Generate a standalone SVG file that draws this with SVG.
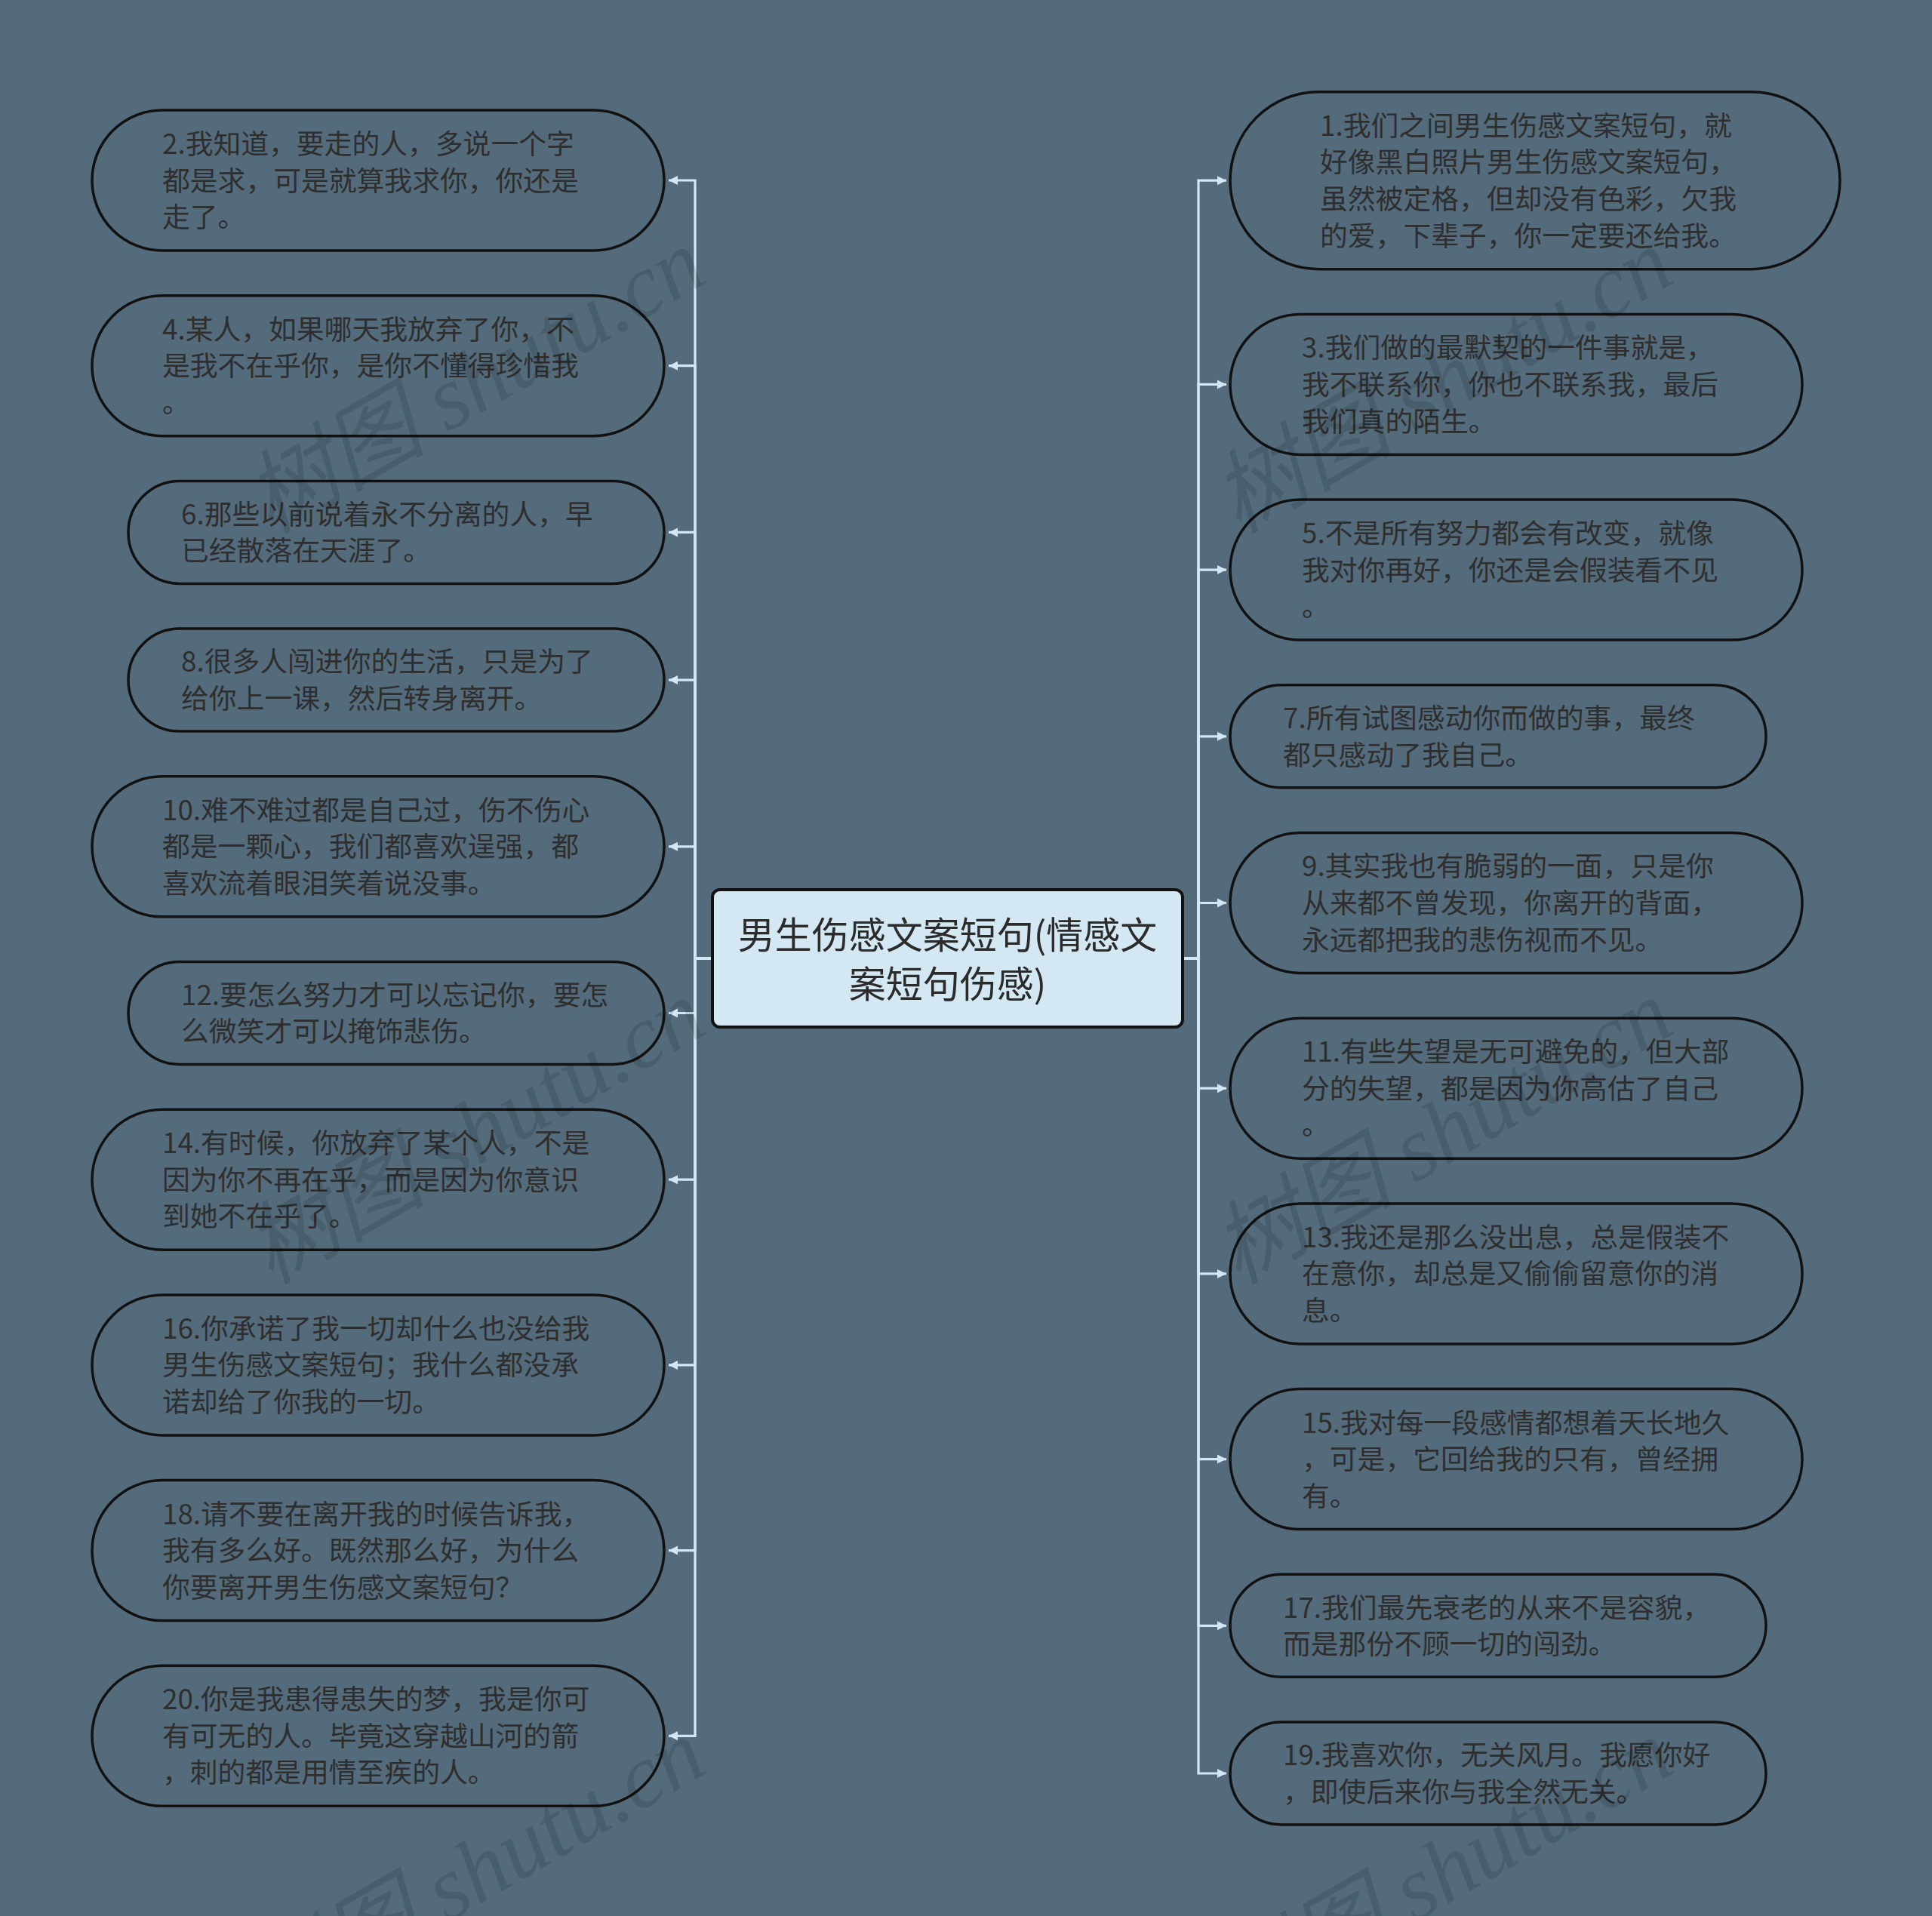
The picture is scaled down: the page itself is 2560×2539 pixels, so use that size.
<svg xmlns="http://www.w3.org/2000/svg" width="2560" height="2539" viewBox="0 0 2560 2539">
<defs>
<style>
.bg{fill:#546b7b}
.node{fill:#546b7b;stroke:#111;stroke-width:3.5}
.t{font-family:"Noto Sans CJK SC","Noto Sans",sans-serif;font-size:36.8px;fill:#2e2e2e}
.ct{font-family:"Noto Sans CJK SC","Noto Sans",sans-serif;font-size:49px;fill:#2b2b2b;text-anchor:middle}
.conn{fill:none;stroke:#d2e8f4;stroke-width:3.2}
.wm{font-family:"Liberation Serif","Noto Sans CJK SC",serif;font-style:italic;font-size:120px;fill:#000;fill-opacity:0.12;text-anchor:middle}
</style>
<marker id="arr" markerUnits="userSpaceOnUse" markerWidth="13" markerHeight="14" refX="12" refY="7" orient="auto">
<path d="M0,1 L12,7 L0,13 z" fill="#d2e8f4"/>
</marker>
</defs>
<rect class="bg" x="0" y="0" width="2560" height="2539"/>

<g id="connectors">
<path class="conn" marker-end="url(#arr)" d="M944,1270 H921 V239 H886"/>
<path class="conn" marker-end="url(#arr)" d="M944,1270 H921 V484.7 H886"/>
<path class="conn" marker-end="url(#arr)" d="M944,1270 H921 V705.4 H886"/>
<path class="conn" marker-end="url(#arr)" d="M944,1270 H921 V901.1 H886"/>
<path class="conn" marker-end="url(#arr)" d="M944,1270 H921 V1121.8 H886"/>
<path class="conn" marker-end="url(#arr)" d="M944,1270 H921 V1342.5 H886"/>
<path class="conn" marker-end="url(#arr)" d="M944,1270 H921 V1563.2 H886"/>
<path class="conn" marker-end="url(#arr)" d="M944,1270 H921 V1808.9 H886"/>
<path class="conn" marker-end="url(#arr)" d="M944,1270 H921 V2054.6 H886"/>
<path class="conn" marker-end="url(#arr)" d="M944,1270 H921 V2300.3 H886"/>
<path class="conn" marker-end="url(#arr)" d="M1567,1270 H1588 V239.2 H1625"/>
<path class="conn" marker-end="url(#arr)" d="M1567,1270 H1588 V509.4 H1625"/>
<path class="conn" marker-end="url(#arr)" d="M1567,1270 H1588 V755.1 H1625"/>
<path class="conn" marker-end="url(#arr)" d="M1567,1270 H1588 V975.8 H1625"/>
<path class="conn" marker-end="url(#arr)" d="M1567,1270 H1588 V1196.5 H1625"/>
<path class="conn" marker-end="url(#arr)" d="M1567,1270 H1588 V1442.2 H1625"/>
<path class="conn" marker-end="url(#arr)" d="M1567,1270 H1588 V1687.9 H1625"/>
<path class="conn" marker-end="url(#arr)" d="M1567,1270 H1588 V1933.6 H1625"/>
<path class="conn" marker-end="url(#arr)" d="M1567,1270 H1588 V2154.3 H1625"/>
<path class="conn" marker-end="url(#arr)" d="M1567,1270 H1588 V2350 H1625"/>
</g>

<g id="node-center">
<rect x="944" y="1179" width="623" height="182" rx="10" fill="#d3e8f3" stroke="#111" stroke-width="4"/>
<text class="ct"><tspan x="1255.5" y="1257">男生伤感文案短句(情感文</tspan><tspan x="1255.5" y="1322">案短句伤感)</tspan></text>
</g>

<g id="node-2">
<rect class="node" x="122" y="146" width="758" height="186" rx="93"/>
<text class="t"><tspan x="215" y="203.9">2.我知道，要走的人，多说一个字</tspan><tspan x="215" y="252.5">都是求，可是就算我求你，你还是</tspan><tspan x="215" y="301.1">走了。</tspan></text>
</g>
<g id="node-4">
<rect class="node" x="122" y="391.7" width="758" height="186" rx="93"/>
<text class="t"><tspan x="215" y="449.6">4.某人，如果哪天我放弃了你，不</tspan><tspan x="215" y="498.2">是我不在乎你，是你不懂得珍惜我</tspan><tspan x="215" y="546.8">。</tspan></text>
</g>
<g id="node-6">
<rect class="node" x="170" y="637.4" width="710" height="136" rx="68"/>
<text class="t"><tspan x="240" y="694.6">6.那些以前说着永不分离的人，早</tspan><tspan x="240" y="743.2">已经散落在天涯了。</tspan></text>
</g>
<g id="node-8">
<rect class="node" x="170" y="833.1" width="710" height="136" rx="68"/>
<text class="t"><tspan x="240" y="890.3">8.很多人闯进你的生活，只是为了</tspan><tspan x="240" y="938.9">给你上一课，然后转身离开。</tspan></text>
</g>
<g id="node-10">
<rect class="node" x="122" y="1028.8" width="758" height="186" rx="93"/>
<text class="t"><tspan x="215" y="1086.7">10.难不难过都是自己过，伤不伤心</tspan><tspan x="215" y="1135.3">都是一颗心，我们都喜欢逞强，都</tspan><tspan x="215" y="1183.9">喜欢流着眼泪笑着说没事。</tspan></text>
</g>
<g id="node-12">
<rect class="node" x="170" y="1274.5" width="710" height="136" rx="68"/>
<text class="t"><tspan x="240" y="1331.7">12.要怎么努力才可以忘记你，要怎</tspan><tspan x="240" y="1380.3">么微笑才可以掩饰悲伤。</tspan></text>
</g>
<g id="node-14">
<rect class="node" x="122" y="1470.2" width="758" height="186" rx="93"/>
<text class="t"><tspan x="215" y="1528.1">14.有时候，你放弃了某个人，不是</tspan><tspan x="215" y="1576.7">因为你不再在乎，而是因为你意识</tspan><tspan x="215" y="1625.3">到她不在乎了。</tspan></text>
</g>
<g id="node-16">
<rect class="node" x="122" y="1715.9" width="758" height="186" rx="93"/>
<text class="t"><tspan x="215" y="1773.8">16.你承诺了我一切却什么也没给我</tspan><tspan x="215" y="1822.4">男生伤感文案短句；我什么都没承</tspan><tspan x="215" y="1871">诺却给了你我的一切。</tspan></text>
</g>
<g id="node-18">
<rect class="node" x="122" y="1961.6" width="758" height="186" rx="93"/>
<text class="t"><tspan x="215" y="2019.5">18.请不要在离开我的时候告诉我，</tspan><tspan x="215" y="2068.1">我有多么好。既然那么好，为什么</tspan><tspan x="215" y="2116.7">你要离开男生伤感文案短句？</tspan></text>
</g>
<g id="node-20">
<rect class="node" x="122" y="2207.3" width="758" height="186" rx="93"/>
<text class="t"><tspan x="215" y="2265.2">20.你是我患得患失的梦，我是你可</tspan><tspan x="215" y="2313.8">有可无的人。毕竟这穿越山河的箭</tspan><tspan x="215" y="2362.4">，刺的都是用情至疾的人。</tspan></text>
</g>

<g id="node-1">
<rect class="node" x="1630" y="121.7" width="808" height="235" rx="117.5"/>
<text class="t"><tspan x="1749" y="179.8">1.我们之间男生伤感文案短句，就</tspan><tspan x="1749" y="228.4">好像黑白照片男生伤感文案短句，</tspan><tspan x="1749" y="277">虽然被定格，但却没有色彩，欠我</tspan><tspan x="1749" y="325.6">的爱，下辈子，你一定要还给我。</tspan></text>
</g>
<g id="node-3">
<rect class="node" x="1630" y="416.4" width="758" height="186" rx="93"/>
<text class="t"><tspan x="1725" y="474.3">3.我们做的最默契的一件事就是，</tspan><tspan x="1725" y="522.9">我不联系你，你也不联系我，最后</tspan><tspan x="1725" y="571.5">我们真的陌生。</tspan></text>
</g>
<g id="node-5">
<rect class="node" x="1630" y="662.1" width="758" height="186" rx="93"/>
<text class="t"><tspan x="1725" y="720">5.不是所有努力都会有改变，就像</tspan><tspan x="1725" y="768.6">我对你再好，你还是会假装看不见</tspan><tspan x="1725" y="817.2">。</tspan></text>
</g>
<g id="node-7">
<rect class="node" x="1630" y="907.8" width="710" height="136" rx="68"/>
<text class="t"><tspan x="1700" y="965">7.所有试图感动你而做的事，最终</tspan><tspan x="1700" y="1013.6">都只感动了我自己。</tspan></text>
</g>
<g id="node-9">
<rect class="node" x="1630" y="1103.5" width="758" height="186" rx="93"/>
<text class="t"><tspan x="1725" y="1161.4">9.其实我也有脆弱的一面，只是你</tspan><tspan x="1725" y="1210">从来都不曾发现，你离开的背面，</tspan><tspan x="1725" y="1258.6">永远都把我的悲伤视而不见。</tspan></text>
</g>
<g id="node-11">
<rect class="node" x="1630" y="1349.2" width="758" height="186" rx="93"/>
<text class="t"><tspan x="1725" y="1407.1">11.有些失望是无可避免的，但大部</tspan><tspan x="1725" y="1455.7">分的失望，都是因为你高估了自己</tspan><tspan x="1725" y="1504.3">。</tspan></text>
</g>
<g id="node-13">
<rect class="node" x="1630" y="1594.9" width="758" height="186" rx="93"/>
<text class="t"><tspan x="1725" y="1652.8">13.我还是那么没出息，总是假装不</tspan><tspan x="1725" y="1701.4">在意你，却总是又偷偷留意你的消</tspan><tspan x="1725" y="1750">息。</tspan></text>
</g>
<g id="node-15">
<rect class="node" x="1630" y="1840.6" width="758" height="186" rx="93"/>
<text class="t"><tspan x="1725" y="1898.5">15.我对每一段感情都想着天长地久</tspan><tspan x="1725" y="1947.1">，可是，它回给我的只有，曾经拥</tspan><tspan x="1725" y="1995.7">有。</tspan></text>
</g>
<g id="node-17">
<rect class="node" x="1630" y="2086.3" width="710" height="136" rx="68"/>
<text class="t"><tspan x="1700" y="2143.5">17.我们最先衰老的从来不是容貌，</tspan><tspan x="1700" y="2192.1">而是那份不顾一切的闯劲。</tspan></text>
</g>
<g id="node-19">
<rect class="node" x="1630" y="2282" width="710" height="136" rx="68"/>
<text class="t"><tspan x="1700" y="2339.2">19.我喜欢你，无关风月。我愿你好</tspan><tspan x="1700" y="2387.8">，即使后来你与我全然无关。</tspan></text>
</g>

<g id="watermarks">
<text class="wm" transform="translate(650,540) rotate(-30)">树图 shutu.cn</text>
<text class="wm" transform="translate(1932,540) rotate(-30)">树图 shutu.cn</text>
<text class="wm" transform="translate(650,1535) rotate(-30)">树图 shutu.cn</text>
<text class="wm" transform="translate(1932,1535) rotate(-30)">树图 shutu.cn</text>
<text class="wm" transform="translate(650,2515) rotate(-30)">树图 shutu.cn</text>
<text class="wm" transform="translate(1932,2515) rotate(-30)">树图 shutu.cn</text>
</g>
</svg>
